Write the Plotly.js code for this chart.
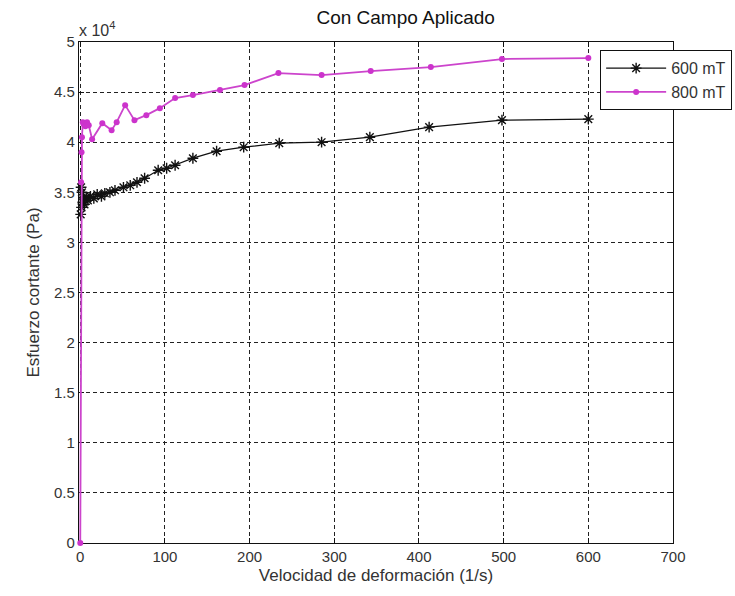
<!DOCTYPE html>
<html>
<head>
<meta charset="utf-8">
<script src="https://cdn.plot.ly/plotly-3.0.1.min.js"></script>
<style>body{margin:0;padding:0;background:#fff;} #chart{width:735px;height:596px;}</style>
</head>
<body>
<div id="chart"></div>
<script>
// 600 mT series
var x600 = [0.5, 1, 1.5, 2, 3, 4, 5, 7, 9, 12, 16, 20, 25, 29, 35, 41, 51, 59, 67, 76, 92, 102, 112, 133, 161, 193, 235, 285, 342, 412, 498, 600];
var y600 = [32800, 35500, 33500, 35000, 34000, 34500, 33800, 34500, 34200, 34600, 34400, 34800, 34600, 34900, 35000, 35200, 35500, 35700, 36000, 36400, 37200, 37400, 37700, 38400, 39100, 39500, 39900, 40000, 40500, 41500, 42200, 42300];
// 800 mT series
var x800 = [0, 1, 1.5, 2, 3, 4, 6, 8, 10, 14, 26, 37, 43, 53, 64, 78, 94, 112, 133, 165, 194, 234, 285, 343, 414, 498, 600];
var y800 = [0, 36000, 39000, 40500, 42000, 41800, 41600, 42000, 41700, 40300, 41900, 41200, 42000, 43700, 42200, 42700, 43400, 44400, 44700, 45200, 45700, 46900, 46700, 47100, 47500, 48300, 48400];
var names = ['600 mT', '800 mT'];
var xTicks = [0, 100, 200, 300, 400, 500, 600, 700];
var yTicks = [0, 5000, 10000, 15000, 20000, 25000, 30000, 35000, 40000, 45000, 50000];
var yTickText = ['0', '0.5', '1', '1.5', '2', '2.5', '3', '3.5', '4', '4.5', '5'];

var fontFam = 'Liberation Sans, Arial, sans-serif';
var txtColor = '#333333';

var traces = [
  {x: x600, y: y600, name: names[0], mode: 'lines+markers', type: 'scatter', cliponaxis: false,
   line: {color: '#111111', width: 1.3},
   marker: {symbol: 'asterisk-open', size: 9, color: '#111111', line: {color: '#111111', width: 1.4}}},
  {x: x800, y: y800, name: names[1], mode: 'lines+markers', type: 'scatter', cliponaxis: false,
   line: {color: '#cc44cc', width: 1.8},
   marker: {symbol: 'circle', size: 6, color: '#cc33cc'}}
];

var axisCommon = {
  showline: true, linecolor: '#111', linewidth: 1.2, mirror: 'ticks',
  ticks: 'inside', ticklen: 5, tickcolor: '#111', layer: 'below traces',
  showgrid: true, gridcolor: '#222', gridwidth: 1, griddash: '4px,3px',
  zeroline: false, automargin: false,
  tickfont: {family: fontFam, size: 15, color: txtColor}
};

var layout = {
  width: 735, height: 596,
  margin: {l: 79, r: 62, t: 42, b: 53, autoexpand: false},
  paper_bgcolor: '#fff', plot_bgcolor: '#fff',
  font: {family: fontFam, color: txtColor},
  title: {text: 'Con Campo Aplicado', font: {family: fontFam, size: 19, color: '#111'},
          x: 0.55, xref: 'paper', xanchor: 'center', y: 0.971, yref: 'container', yanchor: 'middle'},
  xaxis: Object.assign({}, axisCommon, {
    range: [-1.5, 700], tickvals: xTicks, ticktext: xTicks.map(String),
    title: {text: 'Velocidad de deformación (1/s)', font: {family: fontFam, size: 17, color: txtColor}, standoff: 4}
  }),
  yaxis: Object.assign({}, axisCommon, {
    range: [0, 50000], tickvals: yTicks, ticktext: yTickText,
    title: {text: 'Esfuerzo cortante (Pa)', font: {family: fontFam, size: 17, color: txtColor}, standoff: 10}
  }),
  showlegend: true,
  legend: {x: 0.877, y: 0.984, xanchor: 'left', yanchor: 'top', bgcolor: '#fff',
           bordercolor: '#111', borderwidth: 1.2, font: {family: fontFam, size: 16, color: txtColor},
           itemwidth: 60, tracegroupgap: 8},
  annotations: [
    {text: 'x 10<sup>4</sup>', xref: 'paper', yref: 'paper', x: -0.003, y: 1, xanchor: 'left', yanchor: 'bottom',
     yshift: 1, showarrow: false, font: {family: fontFam, size: 16, color: txtColor}}
  ]
};

Plotly.newPlot('chart', traces, layout, {displayModeBar: false, staticPlot: true});
</script>
</body>
</html>
